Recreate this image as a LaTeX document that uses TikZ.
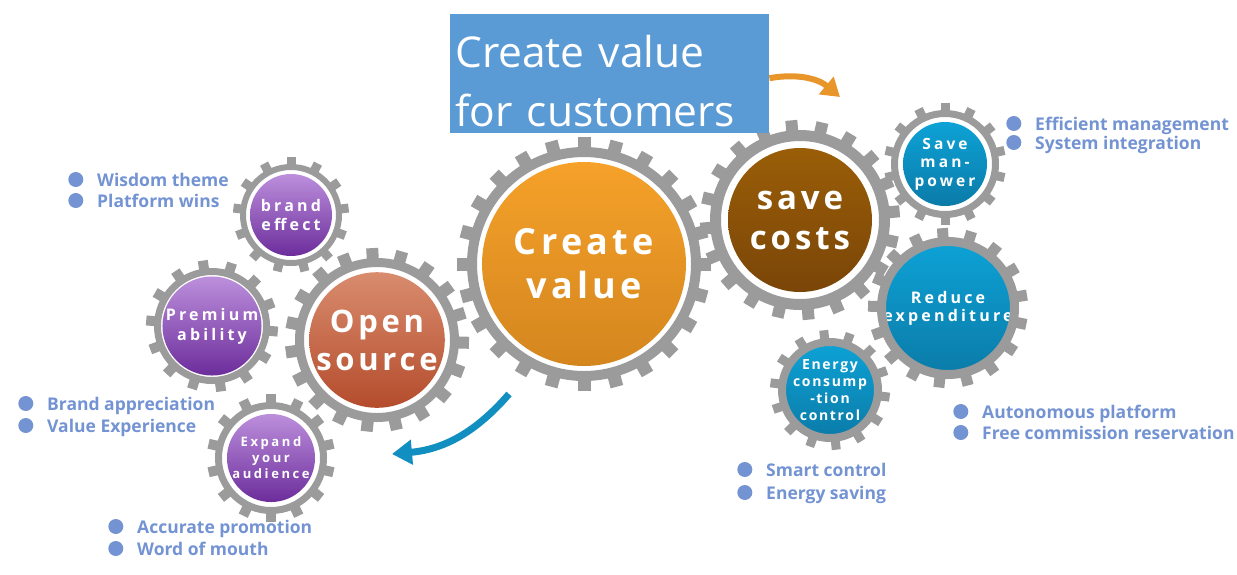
\documentclass[tikz,border=0pt]{standalone}
\usepackage{fontspec}
\setmainfont{Open Sans}
\newfontfamily\gearfont[LetterSpace=12]{Open Sans}
\newfontfamily\smallgearfont[LetterSpace=20]{Open Sans}
\usetikzlibrary{arrows.meta, shapes.geometric}
\definecolor{geargray}{HTML}{9B9B9B}
\definecolor{boxblue}{HTML}{5B9BD5}
\definecolor{listblue}{HTML}{7393D3}
\definecolor{arroworange}{HTML}{E8952A}
\definecolor{arrowblue}{HTML}{118FC0}
\tikzstyle{wheel} = [circle, inner sep=0pt, align=center, text=white, font=\gearfont\bfseries]
\tikzstyle{item} = [anchor=base west, inner sep=0pt, text height=13pt, text depth=0pt, text=listblue, font=\bfseries\fontsize{17.5}{21}\selectfont, label={[circle, fill=listblue, minimum size=15pt, inner sep=0pt, xshift=-13.5pt]left:{}}]
\tikzstyle{arrow} = [line width=6pt, -{Triangle[width=22pt,length=18pt]}]
% gear ring: center node, teeth radius, ring outer, ring inner, teeth, tooth width, rotation
\newcommand{\gearring}[7]{%
  \fill[geargray, even odd rule] (#1.center) circle[radius=#3] circle[radius=#4];
  \foreach \k in {1,...,#5}
    \fill[geargray, shift={(#1.center)}, rotate=#7+360*\k/#5] (-#6/2,#3-1) rectangle (#6/2,#2);
}

\begin{document}
\begin{tikzpicture}[x=1pt, y=1pt]
\useasboundingbox (0,0) rectangle (1237,-574);

% gears
\node (cv) [wheel, minimum size=204pt, top color={rgb,255:red,245;green,161;blue,42}, bottom color={rgb,255:red,212;green,134;blue,30}, font=\gearfont\bfseries\fontsize{36}{44}\selectfont] at (584,-264) {Create\\value};
\gearring{cv}{127}{117}{107}{24}{13}{0}

\node (sc) [wheel, minimum size=144pt, top color={rgb,255:red,154;green,94;blue,8}, bottom color={rgb,255:red,122;green,69;blue,8}, font=\gearfont\bfseries\fontsize{33}{40}\selectfont] at (800,-220) {save\\costs};
\gearring{sc}{100}{90}{79}{20}{12}{5}

\node (mp) [wheel, minimum size=84pt, top color={rgb,255:red,13;green,162;blue,214}, bottom color={rgb,255:red,11;green,123;blue,168}, font=\smallgearfont\bfseries\fontsize{15.5}{18.5}\selectfont] at (945,-164) {Save\\man-\\power};
\gearring{mp}{61}{54}{47}{14}{9}{0}

\node (re) [wheel, minimum size=112pt, top color={rgb,255:red,13;green,162;blue,214}, bottom color={rgb,255:red,11;green,123;blue,168}, font=\smallgearfont\bfseries\fontsize{16}{18}\selectfont] at (948,-308) {Reduce\\expenditure};
\gearring{re}{80}{71}{62}{17}{11}{4}

\node (ec) [wheel, minimum size=80pt, top color={rgb,255:red,13;green,162;blue,214}, bottom color={rgb,255:red,11;green,123;blue,168}, font=\gearfont\bfseries\fontsize{14}{17}\selectfont] at (830,-390) {Energy\\consump\\-tion\\control};
\gearring{ec}{60}{52}{44}{14}{9}{6}

\node (os) [wheel, minimum size=134pt, top color={rgb,255:red,217;green,140;blue,110}, bottom color={rgb,255:red,180;green,76;blue,44}, font=\gearfont\bfseries\fontsize{31}{38}\selectfont] at (377,-340) {Open\\source};
\gearring{os}{92}{82}{73}{19}{12}{3}

\node (be) [wheel, minimum size=82pt, top color={rgb,255:red,188;green,143;blue,220}, bottom color={rgb,255:red,108;green,45;blue,155}, font=\smallgearfont\bfseries\fontsize{16}{19}\selectfont] at (291,-215) {brand\\effect};
\gearring{be}{58}{51}{45}{13}{9}{0}

\node (pa) [wheel, minimum size=92pt, top color={rgb,255:red,188;green,143;blue,220}, bottom color={rgb,255:red,108;green,45;blue,155}, font=\smallgearfont\bfseries\fontsize{16}{20}\selectfont] at (212,-326) {Premium\\ability};
\gearring{pa}{66}{58}{51}{14}{10}{8}

\node (ea) [wheel, minimum size=88pt, top color={rgb,255:red,188;green,143;blue,220}, bottom color={rgb,255:red,108;green,45;blue,155}, font=\smallgearfont\bfseries\fontsize{13}{16}\selectfont] at (271,-458) {Expand\\your\\audience};
\gearring{ea}{64}{56}{49}{14}{10}{0}

% title box
\node (title) [anchor=north west, fill=boxblue, text=white, align=left, text width=309pt, inner xsep=5pt, inner ysep=0pt, minimum height=119pt, font=\fontsize{42.5}{59}\selectfont] at (450,-14) {\rule{0pt}{48pt}Create value\\for customers};

% arrows
\coordinate (oatip) at (840,-97);
\coordinate (bastart) at (509,-394);
\coordinate (batip) at (392,-454);
\draw [arrow, arroworange] ([yshift=-4.5pt]title.east) to[bend left=25] (oatip);
\draw [arrow, arrowblue, line width=7pt, -{Triangle[width=24pt,length=20pt]}] (bastart) to[bend left=22] (batip);

% bullet lists
\node (w1) [item] at (97,-186) {Wisdom theme};
\node (w2) [item] at (97,-207) {Platform wins};
\node (b1) [item] at (47,-410) {Brand appreciation};
\node (b2) [item] at (47,-432) {Value Experience};
\node (a1) [item] at (137,-533) {Accurate promotion};
\node (a2) [item] at (137,-555) {Word of mouth};
\node (e1) [item] at (1035,-130) {Efficient management};
\node (e2) [item] at (1035,-149) {System integration};
\node (f1) [item] at (982,-418) {Autonomous platform};
\node (f2) [item] at (982,-439) {Free commission reservation};
\node (s1) [item] at (766,-476) {Smart control};
\node (s2) [item] at (766,-499) {Energy saving};

\end{tikzpicture}
\end{document}
